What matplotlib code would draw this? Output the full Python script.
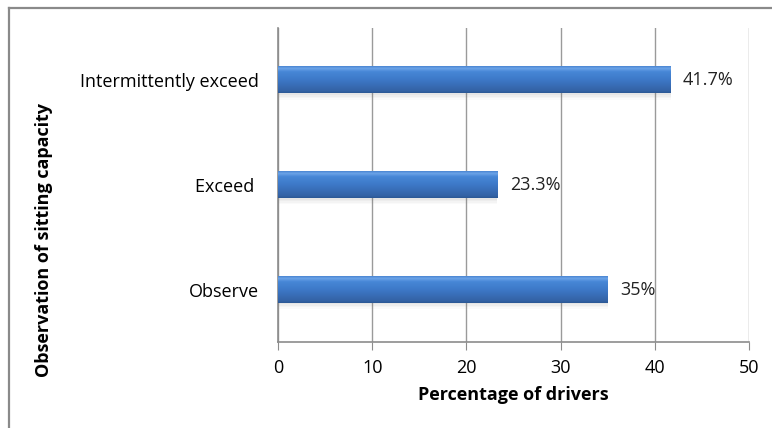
import numpy as np
import matplotlib
matplotlib.use("Agg")
import matplotlib.pyplot as plt
from matplotlib.colors import LinearSegmentedColormap
from matplotlib.patches import Rectangle

categories = ["Observe", "Exceed ", "Intermittently exceed"]
values = [35.0, 23.3, 41.7]
value_labels = ["35%", "23.3%", "41.7%"]
xticks = [0, 10, 20, 30, 40, 50]

plt.rcParams['font.family'] = ['Open Sans', 'DejaVu Sans']

fig = plt.figure(figsize=(7.72, 4.28), dpi=100)
# outer chart border (top and left visible)
fig.add_artist(plt.Line2D([8.5/772, 8.5/772], [0, 1 - 7.5/428], color='#8a8a8a', lw=1.6, transform=fig.transFigure))
fig.add_artist(plt.Line2D([8.5/772, 1], [1 - 7.5/428, 1 - 7.5/428], color='#8a8a8a', lw=1.6, transform=fig.transFigure))

ax = fig.add_axes([278/772, 1 - 342/428, (749 - 278)/772, (342 - 28)/428])
ax.set_xlim(0, 50)
ax.set_ylim(-0.5, 2.5)

ypos = np.arange(len(categories))
bh = 0.25

cmap = LinearSegmentedColormap.from_list('bar', [
    (0.0, '#2b5895'), (0.08, '#3462a5'), (0.5, '#3d79c8'),
    (0.8, '#4787d6'), (0.92, '#6ca4e8'), (1.0, '#4a86d2')])
grad = np.linspace(0, 1, 64).reshape(-1, 1)

for y, v, lab in zip(ypos, values, value_labels):
    # soft shadow below bar
    for k, a in enumerate([0.18, 0.12, 0.07, 0.03]):
        ax.add_patch(Rectangle((0, y - bh/2 - 0.015*(k+1)), v, 0.015, color='#707070', alpha=a, lw=0, zorder=2))
    ax.imshow(grad, cmap=cmap, aspect='auto', origin='lower',
              extent=(0, v, y - bh/2, y + bh/2), zorder=3, interpolation='bilinear')
    ax.text(v + 1.3, y, lab, va='center', ha='left', fontsize=13, color='#222222')

ax.set_yticks(ypos)
ax.set_yticklabels(categories, fontsize=13)
ax.set_xticks(xticks)
ax.set_xticklabels([str(t) for t in xticks], fontsize=13)
ax.tick_params(axis='y', length=0, pad=14)
ax.tick_params(axis='x', length=6, color='#8c8c8c', pad=6)
ax.grid(axis='x', color='#9a9a9a', lw=1)
ax.set_axisbelow(True)
for s in ['top', 'right']:
    ax.spines[s].set_visible(False)
for s in ['left', 'bottom']:
    ax.spines[s].set_color('#8c8c8c')
    ax.spines[s].set_linewidth(1.2)

ax.set_xlabel('Percentage of drivers', fontsize=13, fontweight='bold', labelpad=7)
fig.text(44/772, 1 - 240/428, 'Observation of sitting capacity', rotation=90,
         fontsize=13, fontweight='bold', ha='center', va='center')

fig.savefig('out.png', dpi=100)
